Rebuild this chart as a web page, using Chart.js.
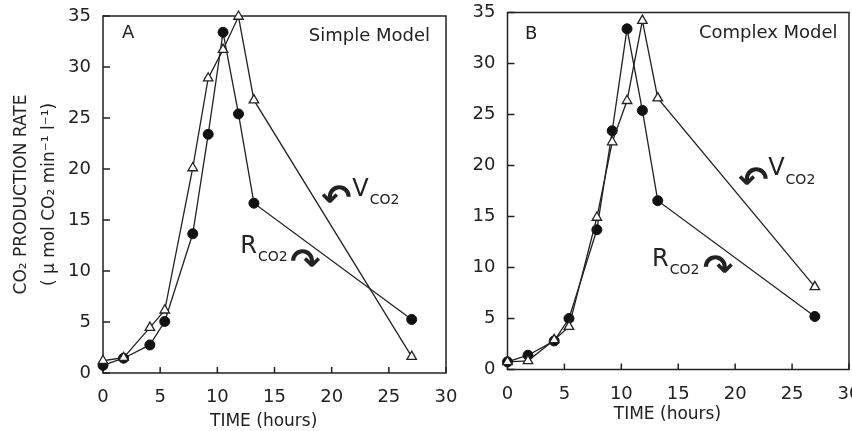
<!DOCTYPE html>
<html>
<head>
<meta charset="utf-8">
<script src="https://cdn.jsdelivr.net/npm/chart.js@4.4.0/dist/chart.umd.min.js"></script>
<style>
  html, body { margin: 0; padding: 0; background: #fff; overflow: hidden; }
  body { width: 852px; height: 431px; position: relative; }
  canvas { position: absolute; top: 0; }
  #simpleChart { left: 0; }
  #complexChart { left: 450px; }
</style>
</head>
<body>
<canvas id="simpleChart" width="460" height="431"></canvas>
<canvas id="complexChart" width="412" height="431"></canvas>
<script>
// sampling times (hours)
const timeHours = [0, 1.8, 4.1, 5.4, 7.85, 9.2, 10.5, 11.85, 13.2, 27];

// panel A - simple model
const simpleR = [0.75, 1.45, 2.75, 5.05, 13.65, 23.4, 33.4, 25.4, 16.65, 5.25];
const simpleV = [1.2, 1.5, 4.45, 6.15, 20.1, 28.9, 31.7, 34.95, 26.75, 1.6];

// panel B - complex model
const complexR = [0.75, 1.4, 2.8, 5.0, 13.7, 23.4, 33.4, 25.4, 16.55, 5.2];
const complexV = [0.75, 0.85, 2.9, 4.2, 14.9, 22.3, 26.35, 34.2, 26.6, 8.1];

const xTicks = [0, 5, 10, 15, 20, 25, 30];
const yTicks = [0, 5, 10, 15, 20, 25, 30, 35];

const ink = '#222';
const fontFamily = 'DejaVu Sans';

const simpleNotes = [
    { text: 'A', t: 1.66, v: 33.3, size: 18 },
    { text: 'Simple Model', t: 28.6, v: 33.0, size: 18, align: 'right' },
    { text: 'V', sub: 'CO2', t: 21.8, v: 18.0, size: 24 },
    { text: '\u21B6', t: 20.4, v: 16.9, size: 36, align: 'center', bold: true },
    { text: 'R', sub: 'CO2', t: 12.0, v: 12.4, size: 24 },
    { text: '\u21B7', t: 17.7, v: 10.6, size: 36, align: 'center', bold: true }
];

const complexNotes = [
    { text: 'B', t: 1.54, v: 32.9, size: 18 },
    { text: 'Complex Model', t: 29.0, v: 33.0, size: 18, align: 'right' },
    { text: 'V', sub: 'CO2', t: 22.9, v: 19.65, size: 24 },
    { text: '\u21B6', t: 21.6, v: 18.3, size: 36, align: 'center', bold: true },
    { text: 'R', sub: 'CO2', t: 12.7, v: 10.8, size: 24 },
    { text: '\u21B7', t: 18.5, v: 9.65, size: 36, align: 'center', bold: true }
];

function toPoints(values) {
    return timeHours.map((t, i) => ({ x: t, y: values[i] }));
}

// frame around the plot area, with tick marks pointing inward
const framePlugin = {
    id: 'frame',
    beforeDatasetsDraw(chart) {
        const { ctx, chartArea: a, scales } = chart;
        ctx.save();
        ctx.strokeStyle = ink;
        ctx.lineWidth = 1.5;
        ctx.strokeRect(a.left, a.top, a.right - a.left, a.bottom - a.top);
        ctx.beginPath();
        scales.x.ticks.forEach(tk => {
            const x = scales.x.getPixelForValue(tk.value);
            ctx.moveTo(x, a.bottom);
            ctx.lineTo(x, a.bottom - 6);
        });
        scales.y.ticks.forEach(tk => {
            const y = scales.y.getPixelForValue(tk.value);
            ctx.moveTo(a.left, y);
            ctx.lineTo(a.left + 7, y);
        });
        ctx.stroke();
        ctx.restore();
    }
};

// text labels placed in data coordinates
const notesPlugin = {
    id: 'notes',
    afterDatasetsDraw(chart, args, opts) {
        const { ctx, scales } = chart;
        ctx.save();
        ctx.fillStyle = ink;
        ctx.textBaseline = 'middle';
        (opts.items || []).forEach(n => {
            const x = scales.x.getPixelForValue(n.t);
            const y = scales.y.getPixelForValue(n.v);
            ctx.font = (n.bold ? 'bold ' : '') + n.size + 'px "' + fontFamily + '"';
            ctx.textAlign = n.align || 'left';
            ctx.fillText(n.text, x, y);
            if (n.sub) {
                const w = ctx.measureText(n.text).width;
                ctx.font = '14px "' + fontFamily + '"';
                ctx.textAlign = 'left';
                ctx.fillText(n.sub, x + w + 1, y + 11);
            }
        });
        ctx.restore();
    }
};

function makeChart(id, rValues, vValues, notes, opt) {
    const ctx = document.getElementById(id).getContext('2d');
    return new Chart(ctx, {
        type: 'line',
        data: {
            datasets: [{
                label: 'VCO2',
                data: toPoints(vValues),
                borderColor: ink,
                borderWidth: 1.3,
                pointStyle: 'triangle',
                pointRadius: 5.5,
                pointBackgroundColor: '#fff',
                pointBorderColor: ink,
                pointBorderWidth: 1.3,
                clip: false
            }, {
                label: 'RCO2',
                data: toPoints(rValues),
                borderColor: ink,
                borderWidth: 1.3,
                pointStyle: 'circle',
                pointRadius: 5,
                pointBackgroundColor: '#111',
                pointBorderColor: '#111',
                pointBorderWidth: 1,
                clip: false
            }]
        },
        options: {
            responsive: false,
            animation: false,
            devicePixelRatio: 1,
            layout: { padding: { top: opt.top, right: opt.right, left: 0, bottom: 0 } },
            plugins: {
                legend: { display: false },
                tooltip: { enabled: false },
                notes: { items: notes }
            },
            scales: {
                x: {
                    type: 'linear',
                    min: 0,
                    max: 30,
                    afterBuildTicks: s => { s.ticks = xTicks.map(v => ({ value: v })); },
                    afterFit: s => { s.height = opt.xHeight; s.paddingLeft = 0; s.paddingRight = 0; },
                    grid: { display: false, drawTicks: false },
                    border: { display: false },
                    ticks: { color: ink, padding: 14, font: { family: fontFamily, size: 18 } },
                    title: {
                        display: true,
                        text: 'TIME (hours)    ',
                        color: ink,
                        padding: { top: 0, bottom: opt.titleBottom },
                        font: { family: fontFamily, size: 17, lineHeight: 1.1 }
                    }
                },
                y: {
                    type: 'linear',
                    min: 0,
                    max: 35,
                    afterBuildTicks: s => { s.ticks = yTicks.map(v => ({ value: v })); },
                    afterFit: s => { s.width = opt.yWidth; s.paddingTop = 0; s.paddingBottom = 0; },
                    grid: { display: false, drawTicks: false },
                    border: { display: false },
                    ticks: { color: ink, padding: 12, font: { family: fontFamily, size: 18 } },
                    title: {
                        display: opt.yTitle,
                        text: ['CO\u2082 PRODUCTION RATE', '( \u03BC mol CO\u2082 min\u207B\u00B9 l\u207B\u00B9)'],
                        color: ink,
                        padding: { top: 7.5, bottom: 0 },
                        font: { family: fontFamily, size: 17, lineHeight: 1.64 }
                    }
                }
            }
        },
        plugins: [framePlugin, notesPlugin]
    });
}

makeChart('simpleChart', simpleR, simpleV, simpleNotes,
    { top: 16, right: 14, xHeight: 58, yWidth: 103, titleBottom: 0, yTitle: true });
makeChart('complexChart', complexR, complexV, complexNotes,
    { top: 12.5, right: 13, xHeight: 61.5, yWidth: 57.5, titleBottom: 6.6, yTitle: false });
</script>
</body>
</html>
